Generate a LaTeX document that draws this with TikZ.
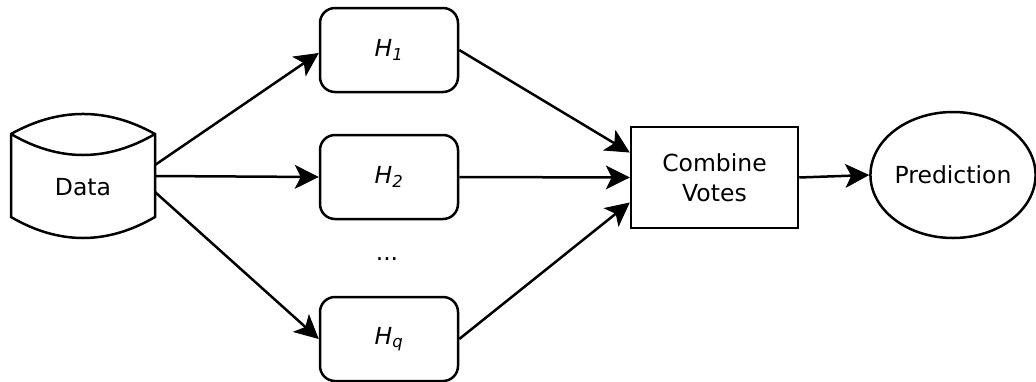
\documentclass[tikz,border=0pt]{standalone}
\usepackage{fontspec}
\setmainfont{DejaVu Sans}
\usetikzlibrary{arrows.meta,calc,shapes.geometric}
\begin{document}
\begin{tikzpicture}[x=1pt,y=-1pt,line width=2.5pt,
  every node/.style={font=\fontsize{23.5}{30}\selectfont},
  hbox/.style={draw,rounded corners=15pt,minimum width=138pt,minimum height=84pt,inner sep=0pt},
  combbox/.style={draw,minimum width=167pt,minimum height=101pt,inner sep=0pt,align=center},
  predshape/.style={draw,ellipse,minimum width=160pt,minimum height=126pt,inner sep=0pt},
  conn/.style={-{Stealth[length=24pt,width=24pt,inset=6pt,line width=1pt]},line width=2.5pt}]
\useasboundingbox (0,0) rectangle (1036,381);
% Data store shape
\draw (11,134) .. controls (59,107.3) and (107,107.3) .. (155,134)
      -- (155,217) .. controls (107,245) and (59,245) .. (11,217) -- cycle;
\draw (11,134) .. controls (59,162) and (107,162) .. (155,134);
\node[minimum width=144pt,inner sep=0pt,outer sep=0pt] (data) at (83,187) {Data};
% hypotheses
\node[hbox] (h1) at (389,50) {\textit{H}\textsubscript{\textit{1}}};
\node[hbox] (h2) at (389,177) {\textit{H}\textsubscript{\textit{2}}};
\node[hbox] (hq) at (389,339) {\textit{H}\textsubscript{\textit{q}}};
\node (dots) at (387,259) {...};
\node[combbox] (comb) at (714.5,177.5) {Combine\\Votes};
\node[predshape] (pred) at (953,175) {Prediction};
% connectors
\draw[conn] ($(data.east)+(0,-22)$) -- ($(h1.west)+(0,3)$);
\draw[conn] ($(data.east)+(0,-11)$) -- (h2.west);
\draw[conn] ($(data.east)+(0,5)$) -- (hq.west);
\draw[conn] (h1.east) -- ($(comb.west)+(0,-25)$);
\draw[conn] (h2.east) -- (comb.west);
\draw[conn] (hq.east) -- ($(comb.west)+(0,25)$);
\draw[conn] (comb.east) -- (pred.west);
\end{tikzpicture}
\end{document}
